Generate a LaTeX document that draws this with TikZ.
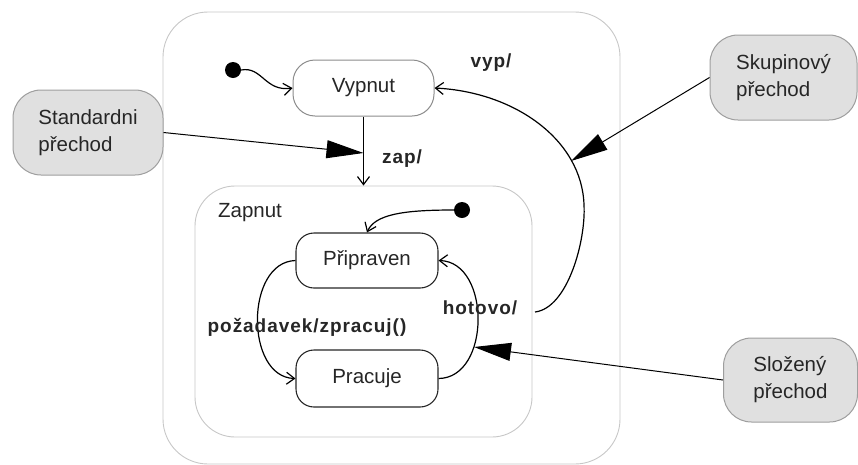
\documentclass[tikz,border=0pt]{standalone}
\usepackage{fontspec}
\setmainfont{Liberation Sans}
\usetikzlibrary{arrows.meta}

\definecolor{notefill}{gray}{0.88}
\definecolor{noteedge}{gray}{0.62}
\definecolor{compedge}{gray}{0.78}
\definecolor{stateedge}{gray}{0.55}
\definecolor{txt}{gray}{0.15}

\tikzset{
  composite/.style={draw=compedge, line width=0.9pt, rounded corners=45pt, inner sep=0pt},
  simplestate/.style={draw=stateedge, line width=1pt, rounded corners=22pt, inner sep=0pt,
    font=\fontsize{20.5}{24}\selectfont, text=txt},
  substate/.style={draw=black!85, line width=1.1pt, rounded corners=18pt, inner sep=0pt,
    font=\fontsize{20.5}{24}\selectfont, text=txt},
  note/.style={draw=noteedge, fill=notefill, line width=1pt, rounded corners=28pt, inner sep=0pt,
    align=left, font=\fontsize{20.5}{27}\selectfont, text=txt},
  startdot/.style={circle, fill=black, minimum size=16pt, inner sep=0pt},
  trans/.style={draw=black, line width=1.2pt, -{Straight Barb[length=8pt,width=12pt]}},
  pointer/.style={draw=black, line width=1pt, -{Triangle[length=37pt,width=18pt]}},
  lbl/.style={font=\bfseries\fontsize{19}{22}\selectfont\addfontfeature{LetterSpace=5}, text=txt},
  plainlbl/.style={font=\fontsize{20.5}{24}\selectfont, text=txt}
}

\begin{document}
\begin{tikzpicture}[x=1pt,y=-1pt]
\useasboundingbox (0,0) rectangle (858,464);

% composite states
\node[composite, minimum width=457pt, minimum height=452pt] (outer) at (391.5,238) {};
\node[composite, rounded corners=40pt, minimum width=337pt, minimum height=251pt] (zap) at (363.5,311.5) {};
\node[plainlbl] (zaplbl) at (250,213) {Zapnut};

% simple states
\node[simplestate, minimum width=141pt, minimum height=56pt] (vyp) at (363.5,88) {Vypnut};
\node[substate, minimum width=142pt, minimum height=55pt] (pri) at (367,260.5) {Připraven};
\node[substate, minimum width=142pt, minimum height=57pt] (pra) at (367,378.5) {Pracuje};

% initial pseudostates
\node[startdot] (start1) at (233,70) {};
\node[startdot] (start2) at (462,210) {};

% comments
\node[note, minimum width=150pt, minimum height=85pt] (std) at (88,132.5) {Standardni\\přechod};
\node[note, minimum width=147pt, minimum height=85pt] (grp) at (783.5,77.5) {Skupinový\\přechod};
\node[note, minimum width=134pt, minimum height=84pt] (cmp) at (790.5,380) {Složený\\přechod};

% transitions
\draw[trans] (start1.east) .. controls (262,66) and (265,92) .. (vyp.west);
\draw[trans] (vyp.south) -- (zap.north);
\node[lbl] (zaplabel) at (402,159) {zap/};

\draw[trans] (start2.west) .. controls (405,210) and (375,214) .. (pri.north);
\draw[trans] (pri.west) .. controls (245,262) and (245,377) .. (pra.west);
\draw[trans] (pra.east) .. controls (491,378) and (491,262) .. (pri.east);
\node[lbl] (hotlabel) at (480,308) {hotovo/};
\node[lbl] (reqlabel) at (307,327) {požadavek/zpracuj()};

\coordinate (gstart) at (535,312);
\draw[trans] (gstart) .. controls (568,308) and (586,240) .. (584,205)
  .. controls (582,140) and (515,92) .. (vyp.east);
\node[lbl] (vyplabel) at (491,63) {vyp/};

% comment pointers
\coordinate (stdtip) at (363.5,153);
\coordinate (grptip) at (571,161);
\coordinate (cmptip) at (474,347);
\draw[pointer] (std.east) -- (stdtip);
\draw[pointer] (grp.west) -- (grptip);
\draw[pointer] (cmp.west) -- (cmptip);
\end{tikzpicture}
\end{document}
